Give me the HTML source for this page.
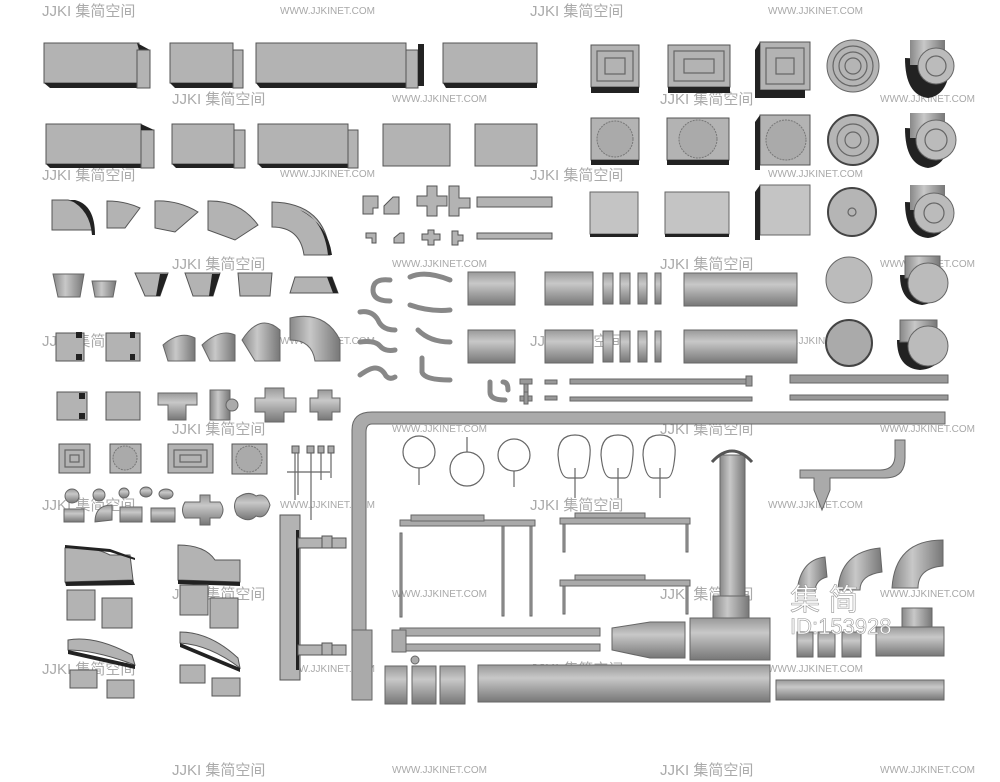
<!DOCTYPE html>
<html><head><meta charset="utf-8"><style>
html,body{margin:0;padding:0;background:#fff}
svg{display:block}
.g{fill:#b3b3b3;stroke:#555;stroke-width:1}
.l{fill:#c4c4c4;stroke:#666;stroke-width:1}
.m{fill:#999;stroke:#555;stroke-width:1}
.d{fill:#222}
.n{fill:none;stroke:#666;stroke-width:1.2}
.w{font-family:"Liberation Sans",sans-serif;font-size:10px;fill:#a8a8a8}
.j{font-family:"Liberation Sans","Noto Sans CJK SC",sans-serif;font-size:15px;fill:#aaa}
</style></head><body>
<svg width="1000" height="782" viewBox="0 0 1000 782" xmlns="http://www.w3.org/2000/svg">
<defs>
<linearGradient id="cy" x1="0" y1="0" x2="0" y2="1"><stop offset="0" stop-color="#999"/><stop offset=".35" stop-color="#c8c8c8"/><stop offset="1" stop-color="#777"/></linearGradient>
<linearGradient id="cx" x1="0" y1="0" x2="1" y2="0"><stop offset="0" stop-color="#888"/><stop offset=".4" stop-color="#c8c8c8"/><stop offset="1" stop-color="#777"/></linearGradient>
</defs>
<!-- watermarks -->
<g class="w">
<text x="280" y="14">WWW.JJKINET.COM</text><text x="768" y="14">WWW.JJKINET.COM</text>
<text x="392" y="102">WWW.JJKINET.COM</text><text x="880" y="102">WWW.JJKINET.COM</text>
<text x="280" y="177">WWW.JJKINET.COM</text><text x="768" y="177">WWW.JJKINET.COM</text>
<text x="392" y="267">WWW.JJKINET.COM</text><text x="880" y="267">WWW.JJKINET.COM</text>
<text x="280" y="344">WWW.JJKINET.COM</text><text x="768" y="344">WWW.JJKINET.COM</text>
<text x="392" y="432">WWW.JJKINET.COM</text><text x="880" y="432">WWW.JJKINET.COM</text>
<text x="280" y="508">WWW.JJKINET.COM</text><text x="768" y="508">WWW.JJKINET.COM</text>
<text x="392" y="597">WWW.JJKINET.COM</text><text x="880" y="597">WWW.JJKINET.COM</text>
<text x="280" y="672">WWW.JJKINET.COM</text><text x="768" y="672">WWW.JJKINET.COM</text>
<text x="392" y="773">WWW.JJKINET.COM</text><text x="880" y="773">WWW.JJKINET.COM</text>
</g>
<g class="j">
<text x="42" y="16">JJKI 集简空间</text><text x="530" y="16">JJKI 集简空间</text>
<text x="172" y="104">JJKI 集简空间</text><text x="660" y="104">JJKI 集简空间</text>
<text x="42" y="180">JJKI 集简空间</text><text x="530" y="180">JJKI 集简空间</text>
<text x="172" y="269">JJKI 集简空间</text><text x="660" y="269">JJKI 集简空间</text>
<text x="42" y="346">JJKI 集简空间</text><text x="530" y="346">JJKI 集简空间</text>
<text x="172" y="434">JJKI 集简空间</text><text x="660" y="434">JJKI 集简空间</text>
<text x="42" y="510">JJKI 集简空间</text><text x="530" y="510">JJKI 集简空间</text>
<text x="172" y="599">JJKI 集简空间</text><text x="660" y="599">JJKI 集简空间</text>
<text x="42" y="674">JJKI 集简空间</text><text x="530" y="674">JJKI 集简空间</text>
<text x="172" y="775">JJKI 集简空间</text><text x="660" y="775">JJKI 集简空间</text>
</g>
<!-- row1 rectangular ducts -->
<g>
<rect class="g" x="44" y="43" width="95" height="40"/><polygon class="d" points="44,83 139,83 150,88 50,88"/><polygon class="d" points="137,43 150,50 139,50"/><rect class="g" x="137" y="50" width="13" height="38"/>
<rect class="g" x="170" y="43" width="63" height="40"/><polygon class="d" points="170,83 233,83 243,88 175,88"/><rect class="g" x="233" y="50" width="10" height="38"/>
<rect class="g" x="256" y="43" width="150" height="40"/><polygon class="d" points="256,83 406,83 418,88 260,88"/><rect class="g" x="406" y="50" width="12" height="38"/>
<rect class="d" x="418" y="44" width="6" height="42"/>
<rect class="g" x="443" y="43" width="94" height="40"/><polygon class="d" points="443,83 537,83 537,88 446,88"/>
</g>
<!-- row2 -->
<g>
<rect class="g" x="46" y="124" width="95" height="40"/><polygon class="d" points="46,164 141,164 155,168 50,168"/><rect class="g" x="141" y="130" width="13" height="38"/><polygon class="d" points="141,124 154,130 141,130"/>
<rect class="g" x="172" y="124" width="62" height="40"/><polygon class="d" points="172,164 234,164 245,168 176,168"/><rect class="g" x="234" y="130" width="11" height="38"/>
<rect class="g" x="258" y="124" width="90" height="40"/><polygon class="d" points="258,164 348,164 358,168 262,168"/><rect class="g" x="348" y="130" width="10" height="38"/>
<rect class="g" x="383" y="124" width="67" height="42"/><rect class="g" x="475" y="124" width="62" height="42"/>
</g>
<!-- row3 elbows -->
<g>
<path class="g" d="M52,200 L52,230 L92,230 Q92,205 68,200 Z"/><path class="d" d="M75,200 Q95,205 95,235 L92,235 Q90,210 70,200Z"/>
<path class="g" d="M107,201 L107,228 L125,228 L140,208 Q125,201 107,201Z"/>
<path class="g" d="M155,201 L155,228 L175,232 L198,212 Q178,200 155,201Z"/>
<path class="g" d="M208,201 L208,230 L235,240 L258,225 Q240,200 208,201Z"/>
<path class="g" d="M272,202 L272,227 Q300,227 304,255 L330,255 Q326,203 272,202Z"/><path class="d" d="M300,210 Q328,225 332,255 L328,255 Q324,220 300,210Z"/>
</g>
<!-- row4 transitions -->
<g>
<polygon points="53,274 84,274 80,297 58,297" fill="url(#cx)" stroke="#666"/>
<polygon points="92,281 116,281 113,297 95,297" fill="url(#cx)" stroke="#666"/>
<polygon class="g" points="135,273 168,273 160,296 145,296"/><polygon class="d" points="160,274 168,274 160,296 156,296"/>
<polygon class="g" points="185,273 220,273 213,296 193,296"/><polygon class="d" points="212,274 220,274 213,296 209,296"/>
<polygon class="g" points="238,273 272,273 270,296 240,296"/>
<polygon class="g" points="290,293 295,277 332,277 338,293"/><polygon class="d" points="327,277 332,277 338,293 333,293"/>
</g>
<!-- row5 -->
<g>
<rect class="g" x="56" y="333" width="28" height="28"/><rect class="d" x="76" y="332" width="6" height="6"/><rect class="d" x="76" y="354" width="6" height="6"/>
<rect class="g" x="106" y="333" width="34" height="28"/><rect class="d" x="130" y="332" width="5" height="6"/><rect class="d" x="130" y="354" width="5" height="6"/>
<path d="M163,345 Q180,330 195,338 L195,361 L168,361 Z" fill="url(#cx)" stroke="#666"/>
<path d="M202,345 Q220,328 235,335 L235,361 L210,361 Z" fill="url(#cx)" stroke="#666"/>
<path d="M242,340 Q260,312 280,330 L280,361 L255,361 Z" fill="url(#cx)" stroke="#666"/>
<path d="M290,318 Q325,310 340,340 L340,361 L315,361 Q312,340 290,340 Z" fill="url(#cx)" stroke="#666"/>
</g>
<!-- row6 -->
<g>
<rect class="g" x="57" y="392" width="30" height="28"/><rect class="d" x="79" y="393" width="6" height="6"/><rect class="d" x="79" y="413" width="6" height="6"/>
<rect class="g" x="106" y="392" width="34" height="28"/>
<path d="M158,393 H197 V405 H186 V420 H168 V405 H158Z" fill="url(#cy)" stroke="#666"/>
<rect x="210" y="390" width="20" height="30" fill="url(#cx)" stroke="#666"/><circle cx="232" cy="405" r="6" fill="#aaa" stroke="#666"/>
<path d="M265,388 H284 V398 H296 V412 H284 V422 H265 V412 H255 V398 H265Z" fill="url(#cy)" stroke="#666"/>
<path d="M318,390 H332 V398 H340 V412 H332 V420 H318 V412 H310 V398 H318Z" fill="url(#cy)" stroke="#666"/>
</g>
<!-- row7 diffusers -->
<g>
<rect class="g" x="59" y="444" width="31" height="29"/><rect class="n" x="65" y="450" width="19" height="17"/><rect class="n" x="70" y="455" width="9" height="7"/>
<rect class="g" x="110" y="444" width="31" height="29"/><circle cx="125" cy="458" r="12" fill="#aaa" stroke="#777" stroke-dasharray="2 1"/>
<rect class="g" x="168" y="444" width="45" height="29"/><rect class="n" x="174" y="450" width="33" height="17"/><rect class="n" x="180" y="455" width="21" height="7"/>
<rect class="g" x="232" y="444" width="35" height="30"/><circle cx="249" cy="459" r="13" fill="#aaa" stroke="#777" stroke-dasharray="2 1"/>
<g fill="#aaa" stroke="#555"><rect x="292" y="446" width="7" height="7"/><rect x="307" y="446" width="7" height="7"/><rect x="318" y="446" width="6" height="7"/><rect x="328" y="446" width="6" height="7"/></g>
<path class="n" d="M295,453 V500 M298,453 V495 M311,453 V520 M321,453 V480 M331,453 V478 M287,472 H330"/>
</g>
<!-- row8 small fittings -->
<g fill="url(#cy)" stroke="#666">
<circle cx="72" cy="496" r="7"/><circle cx="99" cy="495" r="6"/><circle cx="124" cy="493" r="5"/><ellipse cx="146" cy="492" rx="6" ry="5"/><ellipse cx="166" cy="494" rx="7" ry="5"/>
<rect x="64" y="509" width="20" height="13"/><path d="M95,522 Q95,505 112,505 V520 Z"/><rect x="120" y="507" width="22" height="15"/><rect x="151" y="508" width="24" height="14"/>
<path d="M185,502 H200 V495 H210 V502 H220 Q226,510 220,518 H210 V525 H200 V518 H185 Q180,510 185,502Z"/>
<path d="M237,498 Q248,490 256,496 Q266,492 270,505 Q266,520 256,516 Q248,524 237,515 Q232,506 237,498Z"/>
</g>
<!-- bottom-left ducts -->
<g>
<path class="g" d="M65,548 Q90,545 110,555 L130,555 L133,580 L65,582Z"/><polygon class="d" points="65,548 110,552 135,560 135,558 110,549 65,545"/><polygon class="d" points="65,582 133,580 135,585 66,586"/>
<rect class="g" x="67" y="590" width="28" height="30"/><rect class="g" x="102" y="598" width="30" height="30"/>
<path class="g" d="M68,640 Q95,635 132,655 L135,665 Q95,650 68,650Z"/><polygon class="d" points="68,650 135,665 135,669 68,654"/>
<rect class="g" x="70" y="670" width="27" height="18"/><rect class="g" x="107" y="680" width="27" height="18"/>
<path class="g" d="M178,545 Q205,545 215,560 L240,560 L240,582 L178,580Z"/><polygon class="d" points="178,580 240,582 240,586 178,584"/>
<rect class="g" x="180" y="585" width="28" height="30"/><rect class="g" x="210" y="598" width="28" height="30"/>
<path class="g" d="M180,632 Q210,632 238,658 L240,668 Q210,645 180,643Z"/><polygon class="d" points="180,643 240,668 240,672 180,647"/>
<rect class="g" x="180" y="665" width="25" height="18"/><rect class="g" x="212" y="678" width="28" height="18"/>
</g>
<!-- vertical duct with branches -->
<g>
<rect class="g" x="280" y="515" width="20" height="165"/><rect class="d" x="296" y="530" width="3" height="140"/>
<rect class="g" x="298" y="538" width="48" height="10"/><rect class="g" x="298" y="645" width="48" height="10"/>
<rect class="g" x="322" y="536" width="10" height="12"/><rect class="g" x="322" y="643" width="10" height="12"/>
</g>
<!-- big L pipe -->
<g>
<path d="M352,430 Q352,412 372,412 L945,412 L945,424 L372,424 Q366,424 366,432 L366,640 L352,640Z" fill="#aaa" stroke="#666"/>
<rect x="352" y="630" width="20" height="70" fill="#aaa" stroke="#666"/>
</g>
<!-- top right diffusers -->
<g>
<rect class="g" x="591" y="45" width="48" height="42"/><rect class="d" x="591" y="87" width="48" height="6"/><rect class="n" x="597" y="51" width="36" height="30"/><rect class="n" x="605" y="58" width="20" height="16"/>
<rect class="g" x="668" y="45" width="62" height="42"/><rect class="d" x="668" y="87" width="62" height="6"/><rect class="n" x="674" y="51" width="50" height="30"/><rect class="n" x="684" y="59" width="30" height="14"/>
<rect class="g" x="760" y="42" width="50" height="48"/><polygon class="d" points="755,50 760,42 760,98 755,98"/><rect class="d" x="755" y="90" width="50" height="8"/><rect class="n" x="766" y="48" width="38" height="36"/><rect class="n" x="776" y="58" width="18" height="16"/>
<circle cx="853" cy="66" r="26" fill="#b5b5b5" stroke="#666"/><circle class="n" cx="853" cy="66" r="20"/><circle class="n" cx="853" cy="66" r="14"/><circle class="n" cx="853" cy="66" r="8"/>
<path class="d" d="M905,58 Q905,95 928,98 Q950,95 950,60Z"/><rect x="910" y="40" width="35" height="25" fill="url(#cx)"/><circle cx="936" cy="66" r="18" fill="#bbb" stroke="#666"/><circle class="n" cx="936" cy="66" r="10"/>
<rect class="g" x="591" y="118" width="48" height="42"/><rect class="d" x="591" y="160" width="48" height="5"/><circle cx="615" cy="139" r="18" fill="#aaa" stroke="#777" stroke-dasharray="2 1"/>
<rect class="g" x="667" y="118" width="62" height="42"/><rect class="d" x="667" y="160" width="62" height="5"/><circle cx="698" cy="139" r="19" fill="#aaa" stroke="#777" stroke-dasharray="2 1"/>
<rect class="g" x="760" y="115" width="50" height="50"/><polygon class="d" points="755,122 760,115 760,170 755,170"/><circle cx="786" cy="140" r="20" fill="#aaa" stroke="#777" stroke-dasharray="2 1"/>
<circle cx="853" cy="140" r="25" fill="#b5b5b5" stroke="#444" stroke-width="2"/><circle class="n" cx="853" cy="140" r="16"/><circle class="n" cx="853" cy="140" r="8"/>
<path class="d" d="M905,128 Q905,165 928,168 Q950,165 950,130Z"/><rect x="910" y="113" width="35" height="25" fill="url(#cx)"/><circle cx="936" cy="140" r="20" fill="#bbb" stroke="#666"/><circle class="n" cx="936" cy="140" r="11"/>
<rect class="l" x="590" y="192" width="48" height="42"/><rect class="d" x="590" y="234" width="48" height="3"/>
<rect class="l" x="665" y="192" width="64" height="42"/><rect class="d" x="665" y="234" width="64" height="3"/>
<rect class="l" x="760" y="185" width="50" height="50"/><polygon class="d" points="755,192 760,185 760,240 755,240"/>
<circle cx="852" cy="212" r="24" fill="#b5b5b5" stroke="#444" stroke-width="2"/><circle class="n" cx="852" cy="212" r="4"/>
<path class="d" d="M905,202 Q905,236 928,238 Q950,236 950,204Z"/><rect x="910" y="185" width="35" height="25" fill="url(#cx)"/><circle cx="934" cy="213" r="20" fill="#bbb" stroke="#666"/><circle class="n" cx="934" cy="213" r="10"/>
</g>
<!-- small flat fittings -->
<g class="g">
<path d="M363,196 H378 V208 H373 V214 H363Z"/><path d="M384,214 L384,206 L393,197 L399,197 L399,214Z"/>
<path d="M417,196 H427 V186 H437 V196 H447 V206 H437 V216 H427 V206 H417Z"/><path d="M449,186 H459 V198 H470 V208 H459 V216 H449Z"/>
<rect x="477" y="197" width="75" height="10"/><rect x="477" y="233" width="75" height="6"/>
<path d="M366,233 H376 V243 H372 V238 H366Z"/><path d="M394,243 L394,238 L400,233 L404,233 L404,243Z"/><path d="M422,234 H428 V230 H434 V234 H440 V240 H434 V245 H428 V240 H422Z"/><path d="M452,231 H458 V235 H463 V241 H458 V245 H452Z"/>
</g>
<!-- bent pipes -->
<g fill="none" stroke="#888" stroke-width="5" stroke-linecap="round">
<path d="M390,280 Q373,278 373,290 Q373,301 390,301"/>
<path d="M410,277 Q425,270 450,280"/><path d="M360,312 Q372,310 378,320 Q382,330 395,330"/>
<path d="M410,305 Q430,312 450,310"/><path d="M360,342 Q375,340 380,346 Q385,352 395,350"/>
<path d="M418,330 Q430,342 450,342"/><path d="M360,375 Q370,368 375,368 Q382,368 386,376 Q390,380 395,377"/>
<path d="M422,358 V372 Q424,380 450,380"/>
<path d="M490,382 V392 Q490,400 505,400"/><path d="M503,382 Q508,382 508,390"/>
</g>
<g fill="#999" stroke="#666">
<rect x="520" y="379" width="12" height="5"/><rect x="524" y="384" width="4" height="8"/><rect x="520" y="396" width="12" height="5"/><rect x="524" y="392" width="4" height="12"/>
<rect x="545" y="380" width="12" height="4"/><rect x="545" y="396" width="12" height="4"/>
<rect x="570" y="379" width="182" height="5"/><rect x="570" y="397" width="182" height="4"/><rect x="746" y="376" width="6" height="10"/>
<rect x="790" y="375" width="158" height="8"/><rect x="790" y="395" width="158" height="5"/>
</g>
<!-- round pipes -->
<g stroke="#666">
<rect x="468" y="272" width="47" height="33" fill="url(#cy)"/><rect x="545" y="272" width="48" height="33" fill="url(#cy)"/>
<rect x="603" y="273" width="10" height="31" fill="url(#cy)"/><rect x="620" y="273" width="10" height="31" fill="url(#cy)"/><rect x="638" y="273" width="9" height="31" fill="url(#cy)"/><rect x="655" y="273" width="6" height="31" fill="url(#cy)"/>
<rect x="684" y="273" width="113" height="33" fill="url(#cy)"/>
<rect x="468" y="330" width="47" height="33" fill="url(#cy)"/><rect x="545" y="330" width="48" height="33" fill="url(#cy)"/>
<rect x="603" y="331" width="10" height="31" fill="url(#cy)"/><rect x="620" y="331" width="10" height="31" fill="url(#cy)"/><rect x="638" y="331" width="9" height="31" fill="url(#cy)"/><rect x="655" y="331" width="6" height="31" fill="url(#cy)"/>
<rect x="684" y="330" width="113" height="33" fill="url(#cy)"/>
<circle cx="849" cy="280" r="23" fill="#bbb"/>
<path class="d" d="M900,275 Q900,302 922,305 Q945,302 945,275Z" stroke="none"/><rect x="905" y="256" width="35" height="22" fill="url(#cx)"/><circle cx="928" cy="283" r="20" fill="#bbb"/>
<circle cx="849" cy="343" r="23" fill="#aaa" stroke="#444" stroke-width="2"/>
<path class="d" d="M897,340 Q897,368 920,370 Q945,368 945,340Z" stroke="none"/><rect x="900" y="320" width="37" height="22" fill="url(#cx)"/><circle cx="928" cy="346" r="20" fill="#bbb"/>
</g>
<!-- hanger rings -->
<g class="n">
<circle cx="419" cy="452" r="16"/><path d="M419,468 V485"/>
<circle cx="467" cy="469" r="17"/><path d="M467,452 V437"/>
<circle cx="514" cy="455" r="16"/><path d="M514,471 V487"/>
<path d="M558,455 Q558,435 575,435 Q592,435 590,455 Q588,478 582,478 H568 Q560,478 558,455Z M575,468 V498"/>
<path d="M601,455 Q601,435 618,435 Q635,435 633,455 Q631,478 625,478 H611 Q603,478 601,455Z M618,468 V498"/>
<path d="M643,455 Q643,435 660,435 Q677,435 675,455 Q673,478 667,478 H653 Q645,478 643,455Z M660,468 V498"/>
</g>
<!-- frames -->
<g fill="#aaa" stroke="#666">
<rect x="400" y="520" width="135" height="6"/><rect x="411" y="515" width="73" height="6"/>
<rect x="400" y="533" width="2" height="84"/><rect x="502" y="526" width="2" height="90"/><rect x="530" y="526" width="2" height="90"/>
<rect x="560" y="518" width="130" height="6"/><rect x="575" y="513" width="70" height="5"/><rect x="563" y="524" width="2" height="28"/><rect x="686" y="524" width="2" height="28"/>
<rect x="560" y="580" width="130" height="6"/><rect x="575" y="575" width="70" height="5"/><rect x="563" y="586" width="2" height="28"/><rect x="686" y="586" width="2" height="28"/>
</g>
<!-- valve pipes -->
<g fill="#aaa" stroke="#666">
<rect x="400" y="628" width="200" height="8"/><rect x="400" y="644" width="200" height="7"/>
<rect x="392" y="630" width="14" height="22"/><circle cx="415" cy="660" r="4"/>
<path d="M612,628 L650,622 L685,622 L685,658 L650,658 L612,650Z" fill="url(#cy)"/>
<path d="M720,455 H745 V600 H720Z" fill="url(#cx)"/><path d="M712,462 Q732,440 752,462" fill="none" stroke="#555" stroke-width="3"/>
<rect x="713" y="596" width="36" height="22" fill="url(#cx)"/>
<path d="M690,618 H770 V660 H690Z" fill="url(#cy)"/>
<path d="M800,470 H880 Q895,470 895,455 V440 H905 V458 Q905,478 885,478 H830 V490 L822,510 L814,490 V478 H800Z" fill="#aaa"/>
</g>
<!-- bottom pipes -->
<g stroke="#666">
<rect x="385" y="666" width="22" height="38" fill="url(#cy)"/><rect x="412" y="666" width="24" height="38" fill="url(#cy)"/><rect x="440" y="666" width="25" height="38" fill="url(#cy)"/>
<rect x="478" y="665" width="292" height="37" fill="url(#cy)"/>
<rect x="776" y="680" width="168" height="20" fill="url(#cy)"/>
</g>
<!-- right elbows/tees -->
<g stroke="#666">
<path d="M797,592 Q800,560 825,557 L827,577 Q815,580 815,592Z" fill="url(#cx)"/>
<path d="M838,590 Q840,552 880,548 L882,572 Q860,575 860,590Z" fill="url(#cx)"/>
<path d="M892,588 Q895,540 943,540 L943,566 Q918,568 918,588Z" fill="url(#cx)"/>
<rect x="797" y="632" width="16" height="25" fill="url(#cy)"/><rect x="818" y="632" width="17" height="25" fill="url(#cy)"/><rect x="842" y="632" width="19" height="25" fill="url(#cy)"/>
<rect x="902" y="608" width="30" height="22" fill="url(#cx)"/><rect x="876" y="627" width="68" height="29" fill="url(#cy)"/>
</g>
<g font-family="Liberation Sans,Noto Sans CJK SC,sans-serif" fill="#fff" stroke="#999" stroke-width=".6">
<text x="790" y="610" font-size="30">集 简</text>
<text x="790" y="634" font-size="22">ID:153928</text>
</g>
</svg>
</body></html>
